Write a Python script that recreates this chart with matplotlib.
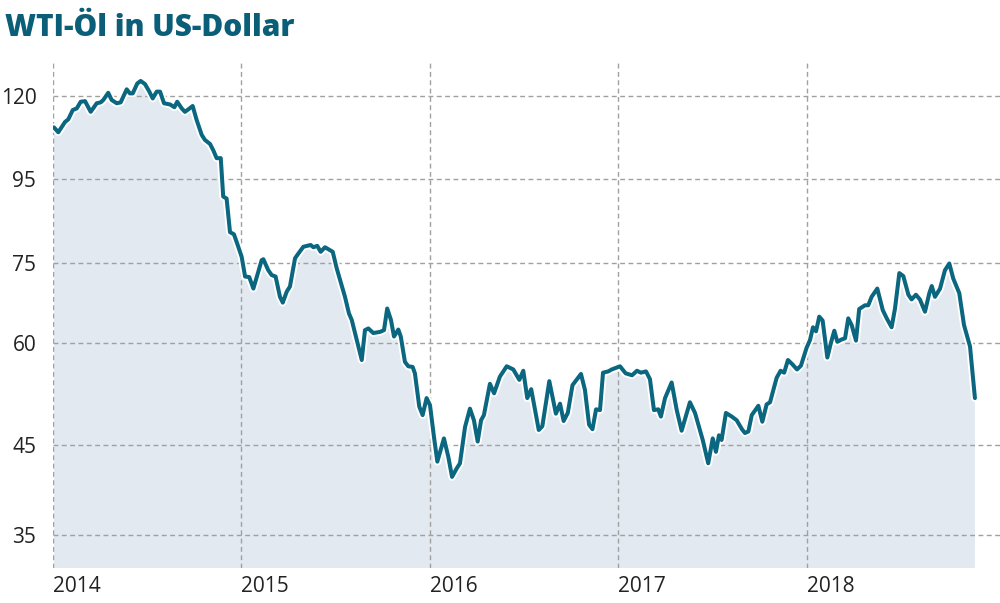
import matplotlib
matplotlib.use("Agg")
import matplotlib.pyplot as plt
import matplotlib.patheffects as pe
from matplotlib.ticker import FixedLocator, NullLocator

# WTI weekly-ish series (decimal years since 2014, USD)
years_offset = [
    0.005, 0.028, 0.064, 0.081, 0.105, 0.126, 0.147, 0.170, 0.200, 0.232,
    0.253, 0.267, 0.293, 0.311, 0.338, 0.359, 0.391, 0.408, 0.423, 0.447,
    0.465, 0.488, 0.511, 0.529, 0.550, 0.568, 0.589, 0.621, 0.644, 0.659,
    0.683, 0.700, 0.718, 0.741, 0.762, 0.789, 0.806, 0.833, 0.850, 0.868,
    0.890, 0.903, 0.921, 0.939, 0.960, 0.983, 1.001, 1.019, 1.041, 1.063,
    1.084, 1.107, 1.116, 1.142, 1.160, 1.181, 1.204, 1.219, 1.240, 1.257,
    1.284, 1.296, 1.328, 1.367, 1.381, 1.402, 1.420, 1.443, 1.484, 1.505,
    1.523, 1.549, 1.570, 1.585, 1.607, 1.638, 1.655, 1.673, 1.699, 1.735,
    1.756, 1.773, 1.793, 1.809, 1.832, 1.845, 1.867, 1.885, 1.908, 1.920,
    1.943, 1.961, 1.982, 2.000, 2.021, 2.039, 2.074, 2.097, 2.117, 2.142,
    2.159, 2.186, 2.212, 2.233, 2.253, 2.271, 2.286, 2.318, 2.340, 2.371,
    2.407, 2.442, 2.474, 2.495, 2.516, 2.537, 2.577, 2.596, 2.633, 2.668,
    2.690, 2.709, 2.731, 2.756, 2.801, 2.822, 2.844, 2.862, 2.881, 2.902,
    2.918, 2.946, 2.964, 3.008, 3.038, 3.072, 3.098, 3.119, 3.146, 3.167,
    3.188, 3.211, 3.225, 3.247, 3.282, 3.309, 3.335, 3.379, 3.406, 3.447,
    3.476, 3.500, 3.517, 3.533, 3.547, 3.570, 3.601, 3.627, 3.655, 3.671,
    3.689, 3.707, 3.742, 3.763, 3.786, 3.804, 3.839, 3.860, 3.879, 3.899,
    3.923, 3.947, 3.968, 3.998, 4.016, 4.032, 4.048, 4.065, 4.083, 4.108,
    4.126, 4.145, 4.161, 4.184, 4.202, 4.219, 4.237, 4.260, 4.277, 4.308,
    4.325, 4.343, 4.373, 4.402, 4.423, 4.449, 4.467, 4.490, 4.511, 4.538,
    4.555, 4.578, 4.599, 4.626, 4.649, 4.662, 4.679, 4.706, 4.732, 4.755,
    4.776, 4.808, 4.833, 4.865, 4.891,
]
price = [
    109.9, 108.4, 111.6, 112.4, 115.4, 115.9, 118.1, 118.3, 114.8, 117.6,
    117.9, 118.7, 121.1, 118.7, 117.6, 117.9, 122.3, 120.9, 120.9, 124.3,
    125.2, 124.1, 121.5, 119.2, 121.5, 121.5, 117.6, 117.2, 116.3, 118.1,
    115.9, 114.8, 115.6, 116.7, 112.2, 107.6, 106.1, 104.9, 103.1, 100.8,
    100.8, 90.5, 90.0, 81.9, 81.4, 78.6, 76.4, 72.3, 72.2, 69.9,
    72.6, 75.7, 75.9, 73.6, 72.6, 72.3, 68.3, 67.2, 69.3, 70.3,
    76.1, 76.8, 78.6, 79.0, 78.5, 78.8, 77.5, 78.5, 77.5, 74.0,
    71.6, 68.3, 65.2, 64.0, 61.1, 57.2, 62.2, 62.5, 61.7, 61.9,
    62.2, 66.1, 64.0, 61.1, 62.3, 61.1, 56.9, 56.2, 56.1, 55.1,
    50.2, 49.0, 51.4, 50.4, 46.1, 43.0, 45.9, 43.6, 41.2, 42.2,
    42.8, 47.4, 49.9, 48.3, 45.5, 48.3, 49.0, 53.5, 52.1, 54.6,
    56.2, 55.7, 54.1, 55.5, 51.4, 52.7, 47.0, 47.5, 53.9, 49.2,
    50.6, 48.2, 49.3, 53.3, 55.0, 52.6, 47.7, 47.1, 49.8, 49.7,
    55.2, 55.4, 55.7, 56.2, 55.1, 54.8, 55.5, 55.2, 55.4, 54.2,
    49.7, 49.8, 48.8, 51.4, 53.7, 49.7, 46.9, 50.8, 49.3, 45.7,
    42.8, 45.9, 44.2, 46.3, 45.7, 49.3, 48.8, 48.3, 47.1, 46.6,
    46.8, 49.0, 50.3, 48.1, 50.5, 50.8, 54.4, 55.5, 55.2, 57.2,
    56.5, 55.7, 56.3, 59.2, 60.5, 62.7, 62.0, 64.6, 63.9, 57.6,
    59.9, 62.1, 60.2, 60.6, 60.8, 64.3, 63.1, 60.4, 66.0, 66.7,
    66.7, 68.3, 69.9, 65.8, 64.3, 62.7, 66.1, 73.0, 72.4, 68.7,
    67.8, 68.7, 67.8, 65.5, 69.0, 70.4, 68.3, 69.9, 73.6, 75.0,
    71.9, 69.0, 63.1, 59.4, 51.4,
]
start_year = 2014
year_ticks = [2014, 2015, 2016, 2017, 2018]
y_ticks = [35, 45, 60, 75, 95, 120]

title = "WTI-Öl in US-Dollar"

line_color = "#0b6780"
title_color = "#0a5e78"
fill_color = "#e3e9f1"
grid_color = "#a0a0a0"

t = [start_year + v for v in years_offset]

fig = plt.figure(figsize=(10, 6.03), dpi=100)
ax = fig.add_axes([0.053, 0.058, 0.947, 0.839])
ax.set_yscale("log")
ax.set_ylim(31.9, 132.0)
ax.set_xlim(2014, 2019.024)

ax.fill_between(t, price, 1, color=fill_color, lw=0, zorder=1)

for yt in y_ticks:
    ax.axhline(yt, color=grid_color, lw=1, ls=(0, (3.5, 2.5)), zorder=2)
for xt in year_ticks:
    ax.axvline(xt, color=grid_color, lw=1, ls=(0, (3.5, 2.5)), zorder=2)

ax.plot(t, price, color=line_color, lw=2.9, solid_joinstyle="round",
        solid_capstyle="round", zorder=3,
        path_effects=[pe.Stroke(linewidth=5.6, foreground="white"), pe.Normal()])

for s in ax.spines.values():
    s.set_visible(False)

ax.yaxis.set_major_locator(FixedLocator(y_ticks))
ax.yaxis.set_minor_locator(NullLocator())
ax.set_yticklabels([str(v) for v in y_ticks], fontsize=15, family="Open Sans",
                   color="#222222")
ax.xaxis.set_major_locator(FixedLocator(year_ticks))
ax.set_xticklabels([str(v) for v in year_ticks], fontsize=15, family="Open Sans",
                   color="#222222", ha="left")
ax.tick_params(axis="both", length=0)
ax.tick_params(axis="y", pad=12)
ax.tick_params(axis="x", pad=6)

fig.text(0.005, 0.978, title, fontsize=21.5, fontweight="heavy", family="Open Sans",
         color=title_color, va="top", ha="left")

fig.savefig("out.png", dpi=100, facecolor="white")
